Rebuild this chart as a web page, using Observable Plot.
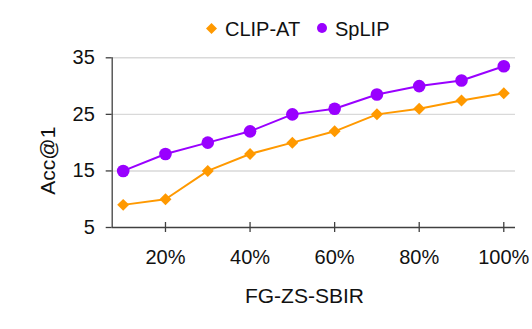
<!DOCTYPE html>
<html>
<head>
<meta charset="utf-8">
<script src="https://cdn.jsdelivr.net/npm/d3@7"></script>
<script src="https://cdn.jsdelivr.net/npm/@observablehq/plot@0.6"></script>
<style>
  html, body { margin: 0; padding: 0; background: #fff; }
  body { width: 532px; height: 329px; overflow: hidden; font-family: "Liberation Sans", Arial, sans-serif; }
  #legend { position: relative; height: 42px; font-size: 20px; line-height: 20px; color: #111; }
  #legend > * { position: absolute; }
  #chart svg { display: block; }
</style>
</head>
<body>
<div id="legend"></div>
<div id="chart"></div>
<script>
// ---- data ----
const fractions = [0.1, 0.2, 0.3, 0.4, 0.5, 0.6, 0.7, 0.8, 0.9, 1.0];
const clipAT = [9, 10, 15, 18, 20, 22, 25, 26, 27.45, 28.75];
const spLIP = [15, 18, 20, 22, 25, 26, 28.5, 30, 31, 33.5];
const seriesNames = ["CLIP-AT", "SpLIP"];
const seriesColors = ["#ff9900", "#9900ff"];
const xTickValues = [0.2, 0.4, 0.6, 0.8, 1.0];
const yTickValues = [5, 15, 25, 35];
const xTitle = "FG-ZS-SBIR";
const yTitle = "Acc@1";

const rows = [
  ...fractions.map((f, i) => ({series: seriesNames[0], x: f, y: clipAT[i]})),
  ...fractions.map((f, i) => ({series: seriesNames[1], x: f, y: spLIP[i]}))
];

// ---- legend ----
const legend = document.getElementById("legend");
legend.innerHTML = `
  <svg style="left:206px;top:22.8px" width="11" height="11"><path d="M5.5,0L11,5.5L5.5,11L0,5.5Z" fill="${seriesColors[0]}"/></svg>
  <span style="left:225px;top:19px">${seriesNames[0]}</span>
  <svg style="left:317.3px;top:23.3px" width="10" height="10"><circle cx="5" cy="5" r="5" fill="${seriesColors[1]}"/></svg>
  <span style="left:335px;top:19px">${seriesNames[1]}</span>`;

// ---- chart ----
const W = 532, H = 287, mt = 15.3, mb = 102, ml = 111.7, mr = 17;
const xDomain = [0.074, 1.0277];
const yDomain = [5, 35];
const axisColor = "#404040";

const chart = Plot.plot({
  width: W,
  height: H,
  marginTop: mt,
  marginBottom: mb,
  marginLeft: ml,
  marginRight: mr,
  style: {fontFamily: "'Liberation Sans', Arial, sans-serif", fontSize: "20px", color: "#111", background: "#fff"},
  x: {type: "linear", domain: xDomain, axis: null},
  y: {domain: yDomain, axis: null},
  color: {domain: seriesNames, range: seriesColors},
  marks: [
    Plot.gridY(yTickValues.slice(1), {stroke: "#d9d9d9", strokeOpacity: 1, strokeWidth: 1.4}),
    Plot.axisY({ticks: yTickValues, tickSize: 6, tickPadding: 11.4, stroke: axisColor, strokeWidth: 1.3, fill: "#111", label: null}),
    Plot.axisX({ticks: xTickValues, tickSize: 0, tickPadding: 22, tickFormat: d => Math.round(d * 100) + "%", fill: "#111", label: null}),
    Plot.ruleX(xTickValues, {stroke: axisColor, strokeWidth: 1.3, insetTop: (H - mt - mb) - 5, insetBottom: -5}),
    Plot.ruleY([yDomain[0]], {stroke: axisColor, strokeWidth: 1.3}),
    Plot.ruleX([xDomain[0]], {stroke: axisColor, strokeWidth: 1.3}),
    Plot.line(rows, {x: "x", y: "y", z: "series", stroke: "series", strokeWidth: 2}),
    Plot.dot(rows.filter(d => d.series === seriesNames[0]), {x: "x", y: "y", symbol: "diamond2", r: 5.4, fill: "series", stroke: "none"}),
    Plot.dot(rows.filter(d => d.series === seriesNames[1]), {x: "x", y: "y", symbol: "circle", r: 6.3, fill: "series", stroke: "none"}),
    Plot.text([xTitle], {frameAnchor: "bottom", text: d => d, dx: -9.4, dy: 61, lineAnchor: "top", fontSize: 21, fill: "#111"}),
    Plot.text([yTitle], {frameAnchor: "left", text: d => d, rotate: -90, dx: -63.7, dy: 18, lineAnchor: "middle", textAnchor: "middle", fontSize: 21, fill: "#111"})
  ]
});
document.getElementById("chart").appendChild(chart);
</script>
</body>
</html>
